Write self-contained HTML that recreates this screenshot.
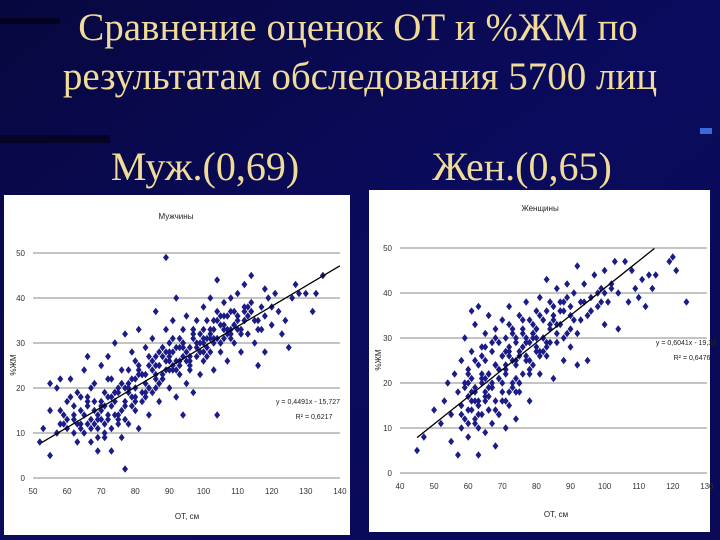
<!DOCTYPE html>
<html><head><meta charset="utf-8"><style>
body{margin:0;width:720px;height:540px;overflow:hidden;background:#0a0a5a;}
svg{display:block}
</style></head><body>
<svg id="s" width="720" height="540" xmlns="http://www.w3.org/2000/svg">
<defs><linearGradient id="bg" x1="0" y1="0" x2="1" y2="1"><stop offset="0" stop-color="#07073f"/><stop offset="0.5" stop-color="#0b0b5e"/><stop offset="1" stop-color="#0a0a55"/></linearGradient></defs>
<rect width="720" height="540" fill="url(#bg)"/>
<rect x="0" y="18" width="60" height="6" fill="#000" opacity="0.5"/>
<rect x="0" y="135" width="110" height="8" fill="#000" opacity="0.5"/>
<rect x="700" y="128" width="12" height="6" fill="#3a6ad8"/>
<g font-family="Liberation Serif, serif" fill="#f0dc98" text-anchor="middle">
<text x="358" y="40" font-size="39">Сравнение оценок ОТ и %ЖМ по</text>
<text x="360" y="89" font-size="39">результатам обследования 5700 лиц</text>
<text x="205" y="180" font-size="40">Муж.(0,69)</text>
<text x="522" y="180" font-size="40">Жен.(0,65)</text>
</g>
<rect x="4" y="195" width="346" height="340" fill="#fff"/>
<rect x="369" y="190" width="341" height="342" fill="#fff"/>
<g id="g1"></g><g id="g2"></g>
</svg>
<script>
const menX=[52,53,55,55,55,57,57,58,58,59,60,60,61,62,62,63,63,64,64,65,65,66,66,67,67,68,68,69,69,70,70,70,71,71,72,72,73,73,73,74,74,75,75,76,76,77,77,77,78,78,79,79,80,80,80,81,81,82,82,83,83,84,84,85,85,86,86,86,87,87,88,88,89,89,89,90,90,90,91,91,92,92,92,93,93,94,94,94,95,95,96,96,97,97,98,98,99,99,100,100,100,101,101,102,102,103,103,104,104,104,105,105,106,106,107,107,108,108,109,109,110,110,111,111,112,112,113,113,114,114,115,116,116,117,118,118,119,120,121,122,123,124,125,126,127,128,130,132,133,135,
62,66,68,70,72,74,76,78,80,82,84,86,88,90,92,94,96,98,100,102,104,106,108,110,112,64,69,73,77,81,85,89,93,97,101,105,109,113,71,75,79,83,87,91,95,99,103,107,
58,60,61,63,65,66,67,68,69,70,71,72,73,74,75,76,77,78,79,80,81,82,83,84,85,86,87,88,89,90,91,92,93,94,95,96,97,98,99,100,101,102,103,104,105,106,107,108,109,110,111,112,114,116,118,120,
59,62,64,66,67,69,71,72,74,75,77,78,80,81,83,84,86,87,88,90,91,93,94,96,97,99,100,102,103,105,106,108,110,112,115,117];
const menY=[8,11,5,15,21,10,20,22,12,14,17,11,22,13,16,8,19,11,15,24,10,18,27,13,8,21,15,11,6,17,25,13,9,19,14,27,22,11,6,17,30,13,20,9,24,2,32,16,19,12,22,28,15,20,26,11,33,17,23,21,29,14,25,19,31,22,27,37,17,25,29,22,33,49,26,20,30,24,35,28,18,26,40,31,23,33,27,14,21,36,29,25,32,19,35,27,30,23,33,38,26,29,35,31,40,24,33,37,44,14,28,34,39,31,36,26,33,40,30,37,35,41,28,33,38,43,32,36,45,39,30,35,25,38,28,42,40,34,41,37,32,35,29,40,43,41,41,37,41,45,
14,17,12,16,13,19,15,21,18,23,20,25,22,27,24,29,26,30,28,32,31,34,32,36,35,12,14,18,20,23,24,28,29,33,31,36,34,38,10,12,16,18,21,24,26,28,30,33,
15,13,18,12,14,16,11,17,13,15,12,18,16,19,14,21,17,20,18,22,24,19,23,20,26,23,21,27,24,28,25,29,26,30,28,27,31,29,32,30,27,33,31,35,30,33,32,37,34,36,32,35,37,33,36,38,
12,10,18,12,20,9,16,22,14,19,13,24,17,25,19,27,20,28,23,26,31,25,30,24,33,28,31,28,35,30,36,31,33,37,35,33];
const womX=[45,47,50,52,53,54,55,55,56,57,57,58,58,58,59,59,59,60,60,60,61,61,61,62,62,62,63,63,63,63,64,64,64,65,65,65,65,66,66,66,67,67,67,68,68,68,68,69,69,69,70,70,70,71,71,71,72,72,72,73,73,74,74,74,75,75,76,76,77,77,78,78,79,79,80,80,81,81,82,82,83,83,84,84,85,85,86,86,87,87,88,88,89,89,90,90,91,91,92,92,93,94,95,95,96,97,98,99,100,100,101,102,103,104,104,106,107,108,109,110,111,112,113,114,115,119,120,121,124,
60,61,62,63,64,65,66,67,68,69,70,71,72,73,74,75,76,77,78,79,80,60,62,64,66,68,70,72,74,76,78,80,82,61,63,65,67,69,71,73,75,77,79,81,83,85,
59,60,61,62,63,64,65,66,67,68,69,70,71,72,73,74,75,76,77,78,79,80,81,82,83,84,85,86,87,88,89,90,92,94,96,98,100,
58,60,62,63,65,66,68,69,71,72,74,75,77,78,80,81,83,84,86,88,90,93,96,99,102];
const womY=[5,8,14,11,16,20,7,13,22,4,18,10,15,25,12,20,30,8,17,23,14,27,36,11,19,33,4,16,24,37,13,21,28,9,18,25,31,14,22,35,11,19,27,6,16,24,32,13,21,29,18,26,34,10,22,30,15,27,37,20,32,12,24,29,18,35,22,31,26,38,16,29,33,24,28,36,22,39,30,34,26,43,32,38,21,35,29,41,33,38,25,36,42,31,37,28,34,40,24,46,38,42,35,25,39,44,37,41,45,33,38,42,47,32,40,47,38,45,41,39,43,37,44,41,44,47,48,45,38,
14,16,18,15,20,17,22,19,24,21,26,23,28,25,30,27,32,29,34,31,30,20,12,22,14,24,16,26,18,28,22,32,27,18,15,16,20,13,24,19,20,25,30,26,29,34,
19,11,21,16,13,26,21,17,29,14,23,20,27,18,31,25,20,34,29,23,31,27,35,30,28,33,37,31,36,30,39,35,31,38,36,40,40,
13,22,25,10,28,19,30,23,16,33,21,26,30,25,32,27,36,29,33,38,32,34,36,38,41];
const yTicks=[0,10,20,30,40,50];
const menXTicks=[50,60,70,80,90,100,110,120,130,140];
const womXTicks=[40,50,60,70,80,90,100,110,120,130];
const menTrend=[0.4491,-15.727,52.5,140];
const womTrend=[0.6041,-19.33,45,114.6];
const NS='http://www.w3.org/2000/svg';
function mk(p,t,a){const e=document.createElementNS(NS,t);for(const k in a)e.setAttribute(k,a[k]);p.appendChild(e);return e;}
function chart(g,o){
 const sx=v=>o.x0+(v-o.xmin)*o.xs, sy=v=>o.y0-v*o.ys;
 yTicks.forEach(t=>{
  if(t>0){const l=mk(g,'line',{x1:sx(o.xmin),x2:sx(o.xmax),y1:sy(t),y2:sy(t),stroke:'#888','stroke-width':1});
  
  }
  const tx=mk(g,'text',{x:sx(o.xmin)-8,y:sy(t)+3,'font-size':8,'text-anchor':'end',fill:'#333','font-family':'Liberation Sans, sans-serif'});tx.textContent=t;
  
  
 });
 const ax=mk(g,'line',{x1:sx(o.xmin),x2:sx(o.xmax),y1:sy(0),y2:sy(0),stroke:'#888'});
 
 
 o.xt.forEach(t=>{
  const tx=mk(g,'text',{x:sx(t),y:sy(0)+16,'font-size':8,'text-anchor':'middle',fill:'#333','font-family':'Liberation Sans, sans-serif'});tx.textContent=t;
  
  
 });
 o.X.forEach((x,i)=>{
  const cx=sx(x),cy=sy(o.Y[i]),r=3.7;
  const p=mk(g,'polygon',{points:`${cx},${cy-r} ${cx+r*0.8},${cy} ${cx},${cy+r} ${cx-r*0.8},${cy}`,fill:'#1c1c86'});
  
  
 });
 const [a,b,x1,x2]=o.tr;
 const tl=mk(g,'line',{x1:sx(x1),y1:sy(a*x1+b),x2:sx(x2),y2:sy(a*x2+b),stroke:'#000','stroke-width':1.3});
 
 
 const T=(x,y,s,txt,n,rot,fs)=>{const e=mk(g,'text',{x,y,'font-size':fs||8,'text-anchor':'middle',fill:'#222','font-family':'Liberation Sans, sans-serif'});if(rot)e.setAttribute('transform',`rotate(-90 ${x} ${y})`);e.textContent=txt;
  
  };
 T(o.tx,o.ty,0,o.title,'chart-title',0,8);
 T(o.lx,o.ly,0,'%ЖМ','y-axis-title',1);
 T(o.ax,o.ay,0,'ОТ, см','x-axis-title');
 T(o.ex,o.ey,0,o.eq,'trend-equation',0,7);
 T(o.ex+6,o.ey+15,0,o.r2,'r-squared',0,7);
}
chart(document.getElementById('g1'),{X:menX,Y:menY,xmin:50,xmax:140,x0:33,xs:3.41,y0:478,ys:4.5,xt:menXTicks,tr:menTrend,title:'Мужчины',tx:176,ty:219,lx:16,ly:365,ax:187,ay:519,ex:308,ey:404,eq:'y = 0,4491x - 15,727',r2:'R² = 0,6217'});
chart(document.getElementById('g2'),{X:womX,Y:womY,xmin:40,xmax:130,x0:400,xs:3.41,y0:473,ys:4.5,xt:womXTicks,tr:womTrend,title:'Женщины',tx:540,ty:211,lx:381,ly:360,ax:556,ay:517,ex:686,ey:345,eq:'y = 0,6041x - 19,33',r2:'R² = 0,6476'});
</script>
</body></html>
